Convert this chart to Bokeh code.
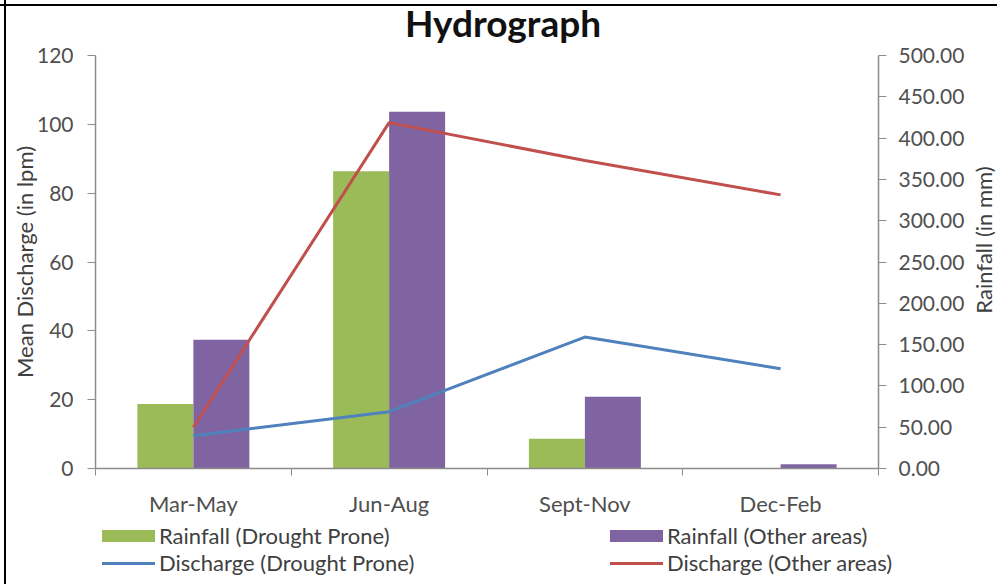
import numpy as np
from bokeh.plotting import figure
from bokeh.layouts import column, row
from bokeh.models import (ColumnDataSource, Range1d, LinearAxis, FixedTicker,
                          SingleIntervalTicker, NumeralTickFormatter, Div)
from bokeh.transform import dodge
from bokeh.embed import file_html
from bokeh.resources import INLINE

# Seasonal data
seasons = ["Mar-May", "Jun-Aug", "Sept-Nov", "Dec-Feb"]
rain_drought = [78, 360, 36, 0]          # mm, right axis
rain_other = [156, 432, 87, 5]           # mm, right axis
discharge_drought = [9.5, 16.5, 38.2, 29.0]   # lpm, left axis
discharge_other = [12.0, 100.5, 89.5, 79.5]   # lpm, left axis

left_ticks_step = 20
right_ticks_step = 50

TITLE = "Hydrograph"
LEFT_LABEL = "Mean Discharge (in lpm)"
RIGHT_LABEL = "Rainfall (in mm)"

FONT = "Lato"
TXT = "#404040"
AX = "#8c8c8c"
GREEN, PURPLE, BLUE, RED = "#9BBB59", "#8064A2", "#4F81BD", "#C0504D"

x_center = [i + 0.5 for i in range(len(seasons))]
src = ColumnDataSource(dict(
    x=x_center, season=seasons,
    rain_drought=rain_drought, rain_other=rain_other,
    dis_drought=discharge_drought, dis_other=discharge_other,
))

p = figure(width=970, height=480, output_backend="svg", toolbar_location=None,
           x_range=Range1d(0, len(seasons)), y_range=Range1d(0, 120),
           min_border_left=95, min_border_right=92, min_border_top=15,
           min_border_bottom=52, x_axis_type=None, y_axis_type=None)
p.outline_line_color = None
p.background_fill_color = "white"
p.border_fill_color = None
p.extra_y_ranges = {"rain": Range1d(0, 500)}

# axes
xaxis = LinearAxis(
    ticker=FixedTicker(ticks=x_center, minor_ticks=list(range(len(seasons) + 1))),
    major_label_overrides={c: s for c, s in zip(x_center, seasons)},
)
xaxis.major_tick_out = 0
xaxis.major_tick_in = 0
xaxis.minor_tick_out = 7
xaxis.minor_tick_in = 0
xaxis.minor_tick_line_color = AX
xaxis.axis_line_color = AX
xaxis.axis_line_width = 1.5
xaxis.major_label_standoff = 14
xaxis.major_label_text_font_size = "22px"
p.add_layout(xaxis, "below")

yaxis = LinearAxis(ticker=SingleIntervalTicker(interval=left_ticks_step),
                   axis_label=LEFT_LABEL)
yaxis.minor_tick_line_color = None
yaxis.major_tick_out = 8
yaxis.major_tick_in = 0
yaxis.major_tick_line_color = AX
yaxis.axis_line_color = AX
yaxis.axis_line_width = 1.5
yaxis.major_label_standoff = 14
yaxis.axis_label_standoff = -4
yaxis.major_label_text_font_size = "21px"
yaxis.axis_label_text_font = FONT
yaxis.axis_label_text_font_size = "22px"
yaxis.axis_label_text_font_style = "normal"
yaxis.axis_label_text_color = TXT
p.add_layout(yaxis, "left")

raxis = LinearAxis(y_range_name="rain", ticker=SingleIntervalTicker(interval=right_ticks_step),
                   formatter=NumeralTickFormatter(format="0.00"))
raxis.minor_tick_line_color = None
raxis.major_tick_out = 8
raxis.major_tick_in = 0
raxis.major_tick_line_color = AX
raxis.axis_line_color = AX
raxis.axis_line_width = 1.5
raxis.major_label_standoff = 12
raxis.major_label_text_font_size = "21px"
p.add_layout(raxis, "right")

for ax in (xaxis, yaxis, raxis):
    ax.major_label_text_font = FONT
    ax.major_label_text_color = "#505050"

p.ygrid.ticker = yaxis.ticker
p.ygrid.grid_line_color = "#c4c4c4"
p.ygrid.grid_line_width = 1.5
p.xgrid.grid_line_color = None

# rainfall bars on the right axis
bw = 0.286
p.vbar(x=dodge("x", -bw / 2, range=p.x_range), top="rain_drought", width=bw,
       source=src, y_range_name="rain", fill_color=GREEN, line_color=None)
p.vbar(x=dodge("x", bw / 2, range=p.x_range), top="rain_other", width=bw,
       source=src, y_range_name="rain", fill_color=PURPLE, line_color=None)

# discharge lines on the left axis
p.line("x", "dis_drought", source=src, line_color=BLUE, line_width=3)
p.line("x", "dis_other", source=src, line_color=RED, line_width=3)

# chart title strip
title_div = Div(
    text=(f'<div style="position:relative;width:997px;height:40px">'
          f'<span style="position:absolute;left:503px;top:4px;transform:translateX(-50%);'
          f'font-family:{FONT};font-weight:bold;font-size:37px;line-height:1;'
          f'color:#111111;white-space:nowrap">{TITLE}</span></div>'),
    width=997, height=40, styles={"margin": "0", "padding": "0"})

# secondary axis title, reading upwards
right_div = Div(
    text=(f'<div style="position:relative;width:27px;height:480px">'
          f'<span style="position:absolute;left:3px;top:200px;'
          f'writing-mode:vertical-rl;transform:translateY(-50%) rotate(180deg);'
          f'font-family:{FONT};font-size:22px;line-height:1;color:{TXT};'
          f'white-space:nowrap">{RIGHT_LABEL}</span></div>'),
    width=27, height=480, styles={"margin": "0", "padding": "0"})

# legend strip underneath the chart: (label, colour, kind, column, row)
legend_entries = [
    ("Rainfall (Drought Prone)", GREEN, "bar", 0, 0),
    ("Discharge (Drought Prone)", BLUE, "line", 0, 1),
    ("Rainfall (Other areas)", PURPLE, "bar", 1, 0),
    ("Discharge (Other areas)", RED, "line", 1, 1),
]
col_x = [102, 610]
row_y = [16, 43]
parts = []
for label, colour, kind, c, r in legend_entries:
    h = 12 if kind == "bar" else 3
    parts.append(
        f'<span style="position:absolute;left:{col_x[c]}px;top:{row_y[r] - h / 2}px;'
        f'width:53px;height:{h}px;background:{colour}"></span>')
    parts.append(
        f'<span style="position:absolute;left:{col_x[c] + 57}px;top:{row_y[r]}px;'
        f'transform:translateY(-50%);white-space:nowrap;line-height:1">{label}</span>')
legend_div = Div(
    text=('<div style="position:relative;width:997px;height:64px;'
          f'font-family:{FONT};font-size:22px;color:{TXT}">' + "".join(parts) + "</div>"),
    width=997, height=64, styles={"margin": "0", "padding": "0"})

page = column(title_div, row(p, right_div, spacing=0), legend_div, spacing=0)
# thin black rules along the left and top edges
page.styles = {
    "background-image": "linear-gradient(black, black), linear-gradient(black, black)",
    "background-size": "2px 100%, 100% 2px",
    "background-position": "4px 0px, 0px 4px",
    "background-repeat": "no-repeat",
}

open("out.html", "w").write(file_html(page, INLINE))
